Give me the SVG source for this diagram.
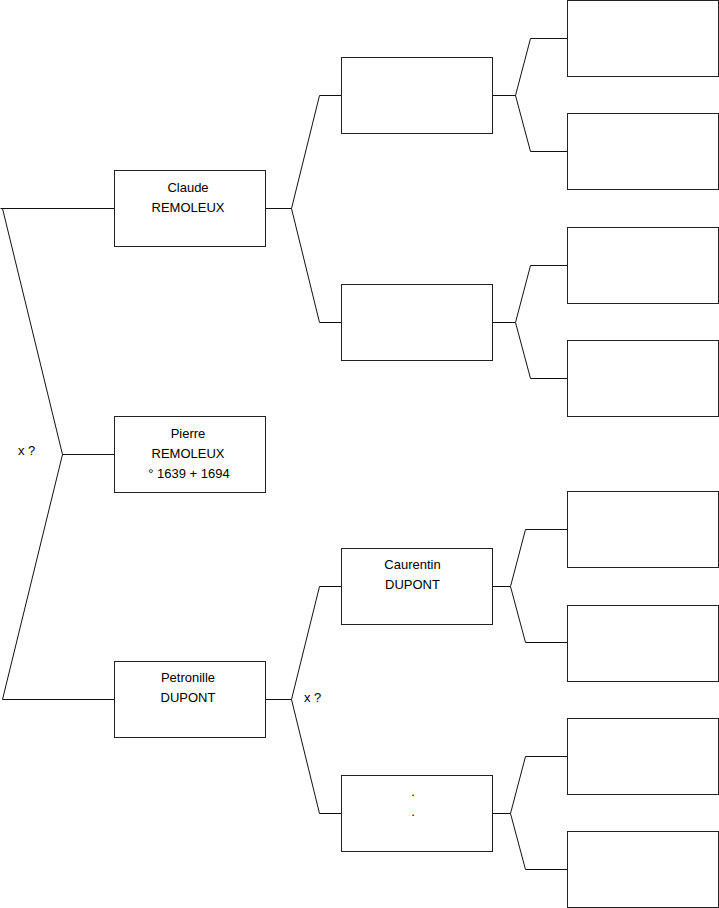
<svg xmlns="http://www.w3.org/2000/svg" width="719" height="908" viewBox="0 0 719 908">
<style>
.box{fill:#fff;stroke:#222;stroke-width:1}
.ln{fill:none;stroke:#111;stroke-width:1}
text{font-family:"Liberation Sans",Arial,sans-serif;font-size:13px;fill:#000;text-anchor:middle}
.l{text-anchor:start}
</style>
<rect width="719" height="908" fill="#fff"/>
<g id="connectors">
<path class="ln" d="M0.5,208.5H114.5M2.5,208.5L62.5,454.5L2.5,699.5H114.5M62.5,454.5H114.5"/>
<path class="ln" d="M265.5,208.5H291.5M319.5,95.5L291.5,208.5L319.5,322.5M319.5,95.5H341.5M319.5,322.5H341.5"/>
<path class="ln" d="M265.5,699.5H291.5M319.5,586.5L291.5,699.5L319.5,813.5M319.5,586.5H341.5M319.5,813.5H341.5"/>
<path class="ln" d="M492.5,95.5H515.5M530.5,38.5L515.5,95.5L530.5,151.5M530.5,38.5H567.5M530.5,151.5H567.5"/>
<path class="ln" d="M492.5,322.5H515.5M530.5,265.5L515.5,322.5L530.5,378.5M530.5,265.5H567.5M530.5,378.5H567.5"/>
<path class="ln" d="M492.5,586.5H510.5M525.5,529.5L510.5,586.5L525.5,642.5M525.5,529.5H567.5M525.5,642.5H567.5"/>
<path class="ln" d="M492.5,813.5H510.5M525.5,756.5L510.5,813.5L525.5,869.5M525.5,756.5H567.5M525.5,869.5H567.5"/>
<text class="l" x="18" y="455">x ?</text>
<text class="l" x="304" y="702">x ?</text>
</g>
<g id="claude"><rect class="box" x="114.5" y="170.5" width="151" height="76"/><text x="188" y="192">Claude</text><text x="188" y="212">REMOLEUX</text></g>
<g id="pierre"><rect class="box" x="114.5" y="416.5" width="151" height="76"/><text x="188" y="438">Pierre</text><text x="188" y="458">REMOLEUX</text><text x="189" y="478">° 1639 + 1694</text></g>
<g id="petronille"><rect class="box" x="114.5" y="661.5" width="151" height="76"/><text x="188" y="682">Petronille</text><text x="188" y="702">DUPONT</text></g>
<g id="f1"><rect class="box" x="341.5" y="57.5" width="151" height="76"/></g>
<g id="m1"><rect class="box" x="341.5" y="284.5" width="151" height="76"/></g>
<g id="caurentin"><rect class="box" x="341.5" y="548.5" width="151" height="76"/><text x="412.5" y="569">Caurentin</text><text x="412.5" y="589">DUPONT</text></g>
<g id="m2"><rect class="box" x="341.5" y="775.5" width="151" height="76"/><text x="413" y="796">.</text><text x="413" y="816">.</text></g>
<g id="gg1"><rect class="box" x="567.5" y="0.5" width="151" height="76"/></g>
<g id="gg2"><rect class="box" x="567.5" y="113.5" width="151" height="76"/></g>
<g id="gg3"><rect class="box" x="567.5" y="227.5" width="151" height="76"/></g>
<g id="gg4"><rect class="box" x="567.5" y="340.5" width="151" height="76"/></g>
<g id="gg5"><rect class="box" x="567.5" y="491.5" width="151" height="76"/></g>
<g id="gg6"><rect class="box" x="567.5" y="605.5" width="151" height="76"/></g>
<g id="gg7"><rect class="box" x="567.5" y="718.5" width="151" height="76"/></g>
<g id="gg8"><rect class="box" x="567.5" y="831.5" width="151" height="76"/></g>
</svg>
